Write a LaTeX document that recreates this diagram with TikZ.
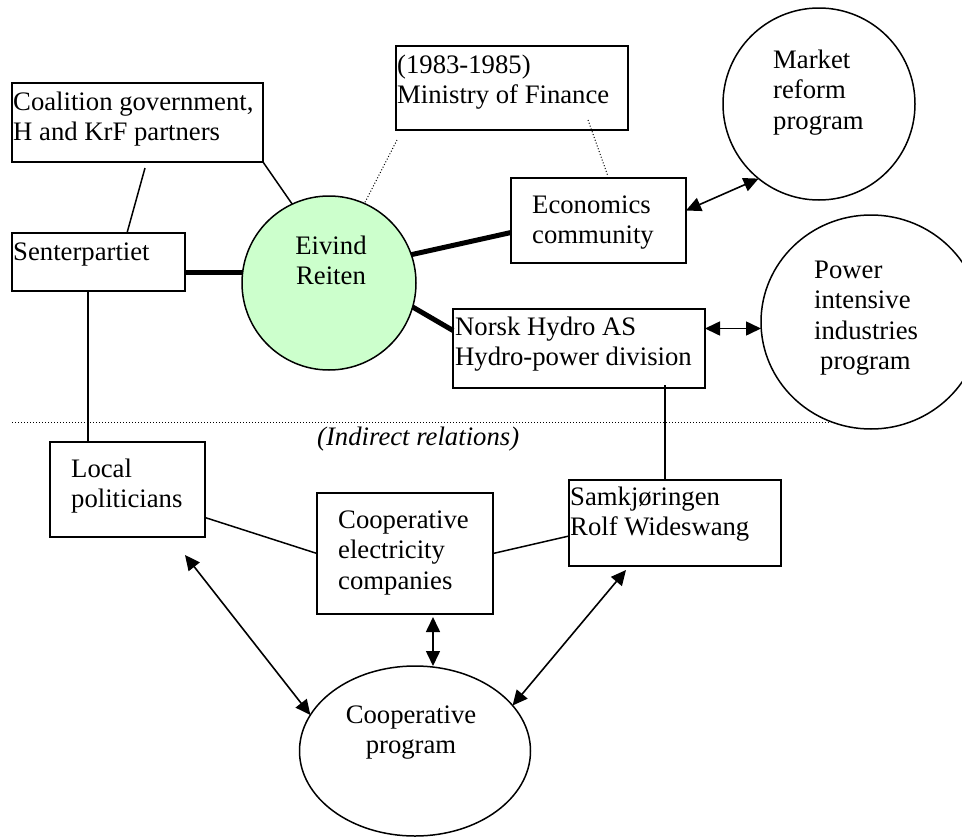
\documentclass[tikz,border=0pt]{standalone}
\usepackage{fontspec}
\setmainfont{Liberation Serif}
\usetikzlibrary{arrows.meta,calc,shapes.geometric}
\newcommand{\mlL}[1]{\begin{tabular}[t]{@{}l@{}}#1\end{tabular}}
\newcommand{\mlC}[1]{\begin{tabular}[t]{@{}c@{}}#1\end{tabular}}
\definecolor{eivgreen}{HTML}{CCFFCC}
\begin{document}
\begin{tikzpicture}[x=1pt,y=-1pt,
  box/.style={draw,line width=1.5pt,rectangle,inner sep=0pt,outer sep=0pt,anchor=north west},
  circ/.style={draw,line width=1.5pt,ellipse,inner sep=0pt,outer sep=0pt},
  lbl/.style={inner sep=0pt,font=\fontsize{26.7}{30.5}\selectfont,anchor=base west},
  lblc/.style={inner sep=0pt,font=\fontsize{26.7}{30.5}\selectfont,anchor=base},
  conn/.style={line width=1.5pt},
  heavyconn/.style={line width=5pt},
  dotconn/.style={line width=1pt,dotted},
  biarrow/.style={line width=1.6pt,{Triangle[length=15pt,width=14pt]}-{Triangle[length=15pt,width=14pt]}}
]
\useasboundingbox (0,0) rectangle (962,838);

% boxes
\node[box,minimum width=251pt,minimum height=79pt] (coal) at (12,83) {};
\node[box,minimum width=173pt,minimum height=58pt] (sent) at (12,233) {};
\node[box,minimum width=232pt,minimum height=84pt] (min) at (396,46) {};
\node[box,minimum width=175pt,minimum height=85pt] (econ) at (511,178) {};
\node[box,minimum width=252pt,minimum height=79pt] (norsk) at (453,309) {};
\node[box,minimum width=155pt,minimum height=95pt] (local) at (50,442) {};
\node[box,minimum width=176pt,minimum height=121pt] (coop) at (317,493) {};
\node[box,minimum width=212pt,minimum height=86pt] (samk) at (569,480) {};

% circles / ellipses
\node[circ,minimum width=192pt,minimum height=192pt] (mkt) at (819,104) {};
\node[circ,fill=eivgreen,minimum width=174pt,minimum height=174pt] (eiv) at (329,283) {};
\node[circ,minimum width=220pt,minimum height=214pt] (pow) at (871,322) {};
\node[circ,minimum width=231pt,minimum height=170pt] (prog) at (415,751) {};

% texts
\node[lbl] (tcoal) at (13,110) {\mlL{Coalition government,\\H and KrF partners}};
\node[lbl] (tsent) at (13,260) {Senterpartiet};
\node[lbl] (tmin) at (397,73) {\mlL{(1983-1985)\\Ministry of Finance}};
\node[lbl] (tecon) at (532,213) {\mlL{Economics\\community}};
\node[lbl] (tnorsk) at (455,335) {\mlL{Norsk Hydro AS\\Hydro-power division}};
\node[lbl] (tlocal) at (71,477) {\mlL{Local\\politicians}};
\node[lbl] (tcoop) at (338,528) {\mlL{Cooperative\\electricity\\companies}};
\node[lbl] (tsamk) at (570,505) {\mlL{Samkjøringen\\Rolf Wideswang}};
\node[lbl] (tmkt) at (773,68) {\mlL{Market\\reform\\program}};
\node[lbl] (tpow) at (814,278) {\mlL{Power\\intensive\\industries\\\hspace{6pt}program}};
\node[lblc] (teiv) at (331,254) {\mlC{Eivind\\Reiten}};
\node[lblc] (tprog) at (411,723) {\mlC{Cooperative\\program}};
\node[lbl,font=\fontsize{26.7}{30.5}\selectfont\itshape] (tind) at (317,445) {(Indirect relations)};

% separator
\coordinate (sepL) at (12,422);
\coordinate (sepR) at (830,422);
\draw[dotconn] (sepL) -- (sepR);

% connectors
\coordinate (cs1) at ($(coal.south west)+(133,6)$);
\coordinate (cs2) at ($(sent.north west)+(115,0)$);
\draw[conn] (cs1) -- (cs2);
\draw[conn] (coal.south east) -- (eiv.115);
\draw[heavyconn] (eiv.173) -- (eiv.173 -| sent.east);
\coordinate (me1) at ($(min.south west)+(1,10)$);
\draw[dotconn] (me1) -- (eiv.66);
\coordinate (me2) at ($(min.south east)+(-40,-10)$);
\coordinate (me3) at ($(econ.north)+(9,-3)$);
\draw[dotconn] (me2) -- (me3);
\draw[heavyconn] (eiv.19) -- ($(econ.west)+(0,12)$);
\draw[heavyconn] (eiv.-16) -- ($(norsk.west)+(0,-18)$);
\coordinate (em) at ($(econ.east)+(0,-10)$);
\draw[biarrow] (em) -- (mkt.231);
\coordinate (np) at ($(norsk.east)+(0,-20)$);
\draw[biarrow] (np) -- (np -| pow.west);
\coordinate (ns) at ($(norsk.south west)+(212,-3)$);
\draw[conn] (ns) -- (ns |- samk.north);
\coordinate (sl) at ($(sent.south west)+(76,0)$);
\draw[conn] (sl) -- (sl |- local.north);
\draw[conn] ($(local.east)+(0,28)$) -- (coop.west);
\draw[conn] (coop.east) -- ($(samk.west)+(0,13)$);
\coordinate (lp) at ($(local.south east)+(-20,18)$);
\draw[biarrow] (lp) -- (prog.161);
\coordinate (cp) at ($(coop.south)+(28,3)$);
\draw[biarrow] (cp) -- (cp |- prog.north);
\coordinate (sp) at ($(samk.south west)+(57,4)$);
\draw[biarrow] (sp) -- (prog.25);
\end{tikzpicture}
\end{document}
